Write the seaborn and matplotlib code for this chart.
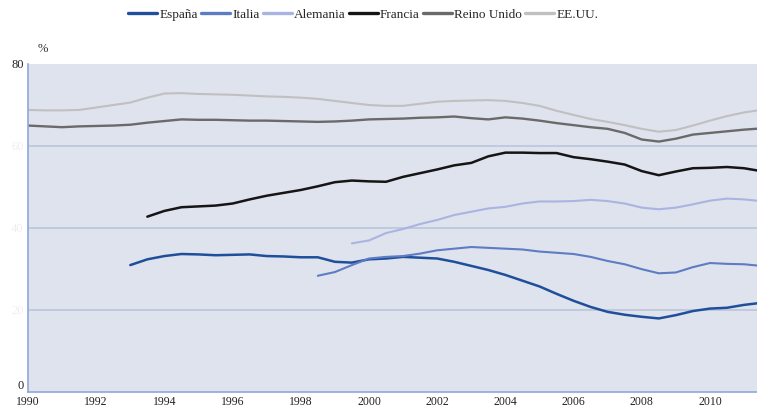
import numpy as np
import pandas as pd
import matplotlib
matplotlib.use("Agg")
import matplotlib.pyplot as plt
import seaborn as sns

# Semi-annual periods, 1990 - 2011.5
periodo = [1990 + 0.5 * i for i in range(44)]
N = np.nan

espana = [N] * 6 + [31.0, 32.4, 33.2, 33.7, 33.6, 33.4, 33.5, 33.6, 33.2, 33.1,
                    32.9, 32.9, 31.8, 31.6, 32.4, 32.6, 33.0, 32.8, 32.6, 31.8,
                    30.8, 29.8, 28.6, 27.2, 25.8, 24.0, 22.3, 20.8, 19.6, 18.9,
                    18.4, 18.0, 18.8, 19.8, 20.4, 20.6, 21.3, 21.8]
italia = [N] * 17 + [28.4, 29.3, 31.0, 32.6, 33.0, 33.2, 33.8, 34.6, 35.0, 35.4,
                     35.2, 35.0, 34.8, 34.3, 34.0, 33.7, 33.0, 32.0, 31.2, 30.0,
                     29.0, 29.2, 30.5, 31.5, 31.3, 31.2, 30.8]
alemania = [N] * 19 + [36.3, 37.0, 38.8, 39.8, 41.0, 42.0, 43.2, 44.0, 44.8, 45.2,
                       46.0, 46.5, 46.5, 46.6, 46.9, 46.6, 46.0, 45.0, 44.6, 45.0,
                       45.8, 46.7, 47.2, 47.0, 46.6]
francia = [N] * 7 + [42.8, 44.2, 45.1, 45.3, 45.5, 46.0, 47.0, 47.9, 48.6, 49.3,
                     50.2, 51.2, 51.6, 51.4, 51.3, 52.5, 53.4, 54.3, 55.3, 55.9,
                     57.5, 58.4, 58.4, 58.3, 58.3, 57.3, 56.8, 56.2, 55.5, 53.9,
                     52.9, 53.8, 54.6, 54.7, 54.9, 54.6, 53.9]
reino_unido = [65.0, 64.8, 64.6, 64.8, 64.9, 65.0, 65.2, 65.7, 66.1, 66.5, 66.4,
               66.4, 66.3, 66.2, 66.2, 66.1, 66.0, 65.9, 66.0, 66.2, 66.5, 66.6,
               66.7, 66.9, 67.0, 67.2, 66.8, 66.5, 67.0, 66.7, 66.2, 65.6, 65.1,
               64.6, 64.2, 63.2, 61.6, 61.1, 61.8, 62.8, 63.2, 63.6, 64.0, 64.3]
eeuu = [68.8, 68.7, 68.7, 68.8, 69.4, 70.0, 70.6, 71.8, 72.8, 72.9, 72.7, 72.6,
        72.5, 72.3, 72.1, 72.0, 71.8, 71.5, 71.0, 70.5, 70.0, 69.8, 69.8, 70.3,
        70.8, 71.0, 71.1, 71.2, 71.0, 70.5, 69.8, 68.6, 67.6, 66.6, 65.9, 65.1,
        64.2, 63.5, 63.9, 65.0, 66.2, 67.3, 68.2, 68.8]

paises = ["España", "Italia", "Alemania", "Francia", "Reino Unido", "EE.UU."]
colores = ["#1f4f9a", "#5d7cc4", "#aab4e2", "#151515", "#6a6a6a", "#c0c0c0"]
grosores = [1.8, 1.5, 1.5, 1.8, 1.7, 1.5]
anios_ticks = list(range(1990, 2012, 2))
valores_y = [0, 20, 40, 60, 80]

series = [espana, italia, alemania, francia, reino_unido, eeuu]
df = pd.concat(
    [pd.DataFrame({"periodo": periodo, "tasa": s, "pais": p}) for p, s in zip(paises, series)],
    ignore_index=True,
).dropna()

sns.set_theme(style="white")
plt.rcParams["font.family"] = ["Liberation Serif", "DejaVu Serif"]

fig = plt.figure(figsize=(7.57, 4.14), dpi=100)
ax = fig.add_axes([0.037, 0.050, 0.963, 0.793])
ax.set_facecolor("#dfe3ee")

sns.lineplot(data=df, x="periodo", y="tasa", hue="pais", hue_order=paises,
             palette=dict(zip(paises, colores)), linewidth=1.6, ax=ax,
             legend=False, estimator=None, sort=True)
for line, lw in zip(ax.get_lines(), grosores):
    line.set_linewidth(lw)
    line.set_solid_capstyle("round")

ax.set_xlim(1990, 2011.38)
ax.set_ylim(0, 80)
ax.set_yticks(valores_y)
ax.set_yticklabels([])
ax.set_xticks(anios_ticks)
ax.set_xticklabels([str(a) for a in anios_ticks], fontsize=8.5, color="#222222")
ax.tick_params(axis="x", length=0, pad=2)
ax.tick_params(axis="y", length=0)
ax.set_xlabel("")
ax.set_ylabel("")

# y labels: only 0 and 80 stand out, the rest are washed out
trans = ax.get_yaxis_transform()
for v in valores_y:
    color = "#222222" if v in (0, 80) else "#efefef"
    ypos = v + 1.8 if v == 0 else v
    ax.text(-0.006, ypos, str(v), transform=trans, ha="right", va="center",
            fontsize=9, color=color)

for v in [20, 40, 60]:
    ax.axhline(v, color="#b7c3db", lw=1.1, zorder=0.5)

for s in ["top", "right"]:
    ax.spines[s].set_visible(False)
for s in ["left", "bottom"]:
    ax.spines[s].set_color("#8fa8d8")
    ax.spines[s].set_linewidth(1.2)

fig.text(0.057, 0.882, "%", fontsize=9, ha="center", va="center", color="#333333")

handles = [plt.Line2D([], [], color=c, lw=2.4) for c in colores]
fig.legend(handles, paises, loc="center", bbox_to_anchor=(0.48, 0.963), ncol=6,
           frameon=False, fontsize=9.5, handlelength=2.2, handletextpad=0.15,
           columnspacing=0.25)

fig.savefig("out.png", dpi=100, facecolor="white")
